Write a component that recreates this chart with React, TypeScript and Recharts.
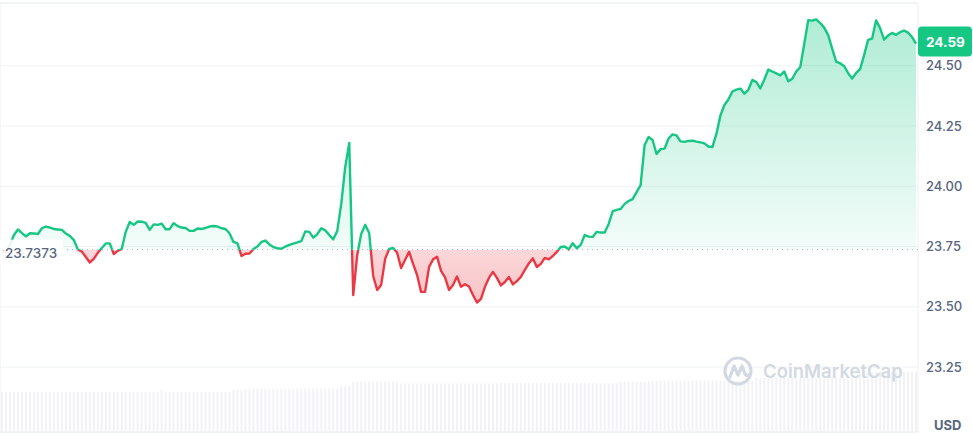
import React from 'react'
import { ComposedChart, Area, Bar, XAxis, YAxis, CartesianGrid, ReferenceLine, ReferenceArea } from 'recharts'

// price readings, left to right
const prices = [
  23.736, 23.728, 23.757, 23.798, 23.821, 23.806, 23.792, 23.805, 23.804, 23.802,
  23.826, 23.833, 23.829, 23.823, 23.821, 23.819, 23.804, 23.794, 23.777, 23.738,
  23.729, 23.707, 23.684, 23.699, 23.724, 23.744, 23.763, 23.763, 23.719, 23.732,
  23.740, 23.811, 23.852, 23.840, 23.854, 23.853, 23.848, 23.819, 23.842, 23.840,
  23.845, 23.822, 23.822, 23.847, 23.835, 23.829, 23.827, 23.815, 23.815, 23.825,
  23.823, 23.827, 23.833, 23.835, 23.833, 23.826, 23.823, 23.805, 23.769, 23.763,
  23.711, 23.720, 23.721, 23.740, 23.750, 23.769, 23.775, 23.759, 23.748, 23.743,
  23.741, 23.750, 23.757, 23.762, 23.767, 23.773, 23.813, 23.811, 23.787, 23.802,
  23.826, 23.817, 23.798, 23.780, 23.815, 23.927, 24.080, 24.180, 23.549, 23.715,
  23.802, 23.840, 23.806, 23.628, 23.570, 23.591, 23.699, 23.740, 23.744, 23.724,
  23.661, 23.695, 23.728, 23.678, 23.632, 23.562, 23.562, 23.665, 23.697, 23.708,
  23.649, 23.622, 23.570, 23.591, 23.626, 23.583, 23.594, 23.584, 23.549, 23.518,
  23.533, 23.583, 23.620, 23.645, 23.620, 23.589, 23.603, 23.624, 23.593, 23.607,
  23.624, 23.653, 23.680, 23.701, 23.665, 23.678, 23.703, 23.697, 23.711, 23.728,
  23.748, 23.750, 23.738, 23.764, 23.743, 23.757, 23.798, 23.791, 23.790, 23.811,
  23.808, 23.808, 23.844, 23.896, 23.902, 23.906, 23.927, 23.939, 23.947, 23.976,
  24.005, 24.171, 24.204, 24.192, 24.134, 24.154, 24.156, 24.198, 24.215, 24.211,
  24.186, 24.184, 24.188, 24.189, 24.185, 24.182, 24.178, 24.165, 24.163, 24.217,
  24.294, 24.337, 24.360, 24.393, 24.401, 24.405, 24.384, 24.400, 24.441, 24.432,
  24.406, 24.443, 24.484, 24.476, 24.468, 24.460, 24.476, 24.435, 24.446, 24.476,
  24.494, 24.590, 24.689, 24.687, 24.692, 24.677, 24.658, 24.627, 24.571, 24.517,
  24.510, 24.498, 24.469, 24.447, 24.470, 24.486, 24.544, 24.607, 24.612, 24.688,
  24.656, 24.608, 24.625, 24.636, 24.628, 24.639, 24.646, 24.637, 24.619, 24.592,
]

// volume readings (same steps as prices)
const volumes = [
  9.3, 9.3, 9.3, 9.3, 9.3, 9.3, 9.3, 9.3, 9.3, 9.3,
  9.3, 9.3, 9.3, 9.3, 9.3, 9.3, 9.3, 9.3, 9.3, 9.3,
  9.3, 9.3, 9.3, 9.3, 9.3, 9.3, 9.3, 9.3, 9.3, 9.3,
  9.3, 9.3, 9.3, 9.3, 9.3, 9.3, 9.3, 9.3, 9.3, 9.3,
  9.8, 9.3, 9.3, 9.3, 9.3, 9.3, 9.3, 9.3, 9.3, 9.3,
  9.3, 9.3, 9.3, 9.3, 9.3, 9.3, 9.3, 9.3, 9.8, 9.8,
  9.8, 10.0, 10.0, 10.1, 10.1, 10.1, 10.1, 10.1, 10.1, 10.1,
  10.1, 10.1, 10.1, 10.1, 10.1, 10.1, 10.1, 10.1, 10.1, 10.1,
  10.1, 10.1, 10.1, 10.1, 10.1, 10.7, 10.7, 10.7, 11.7, 11.7,
  11.7, 11.7, 11.7, 11.7, 11.7, 11.7, 11.7, 11.7, 11.7, 11.7,
  11.3, 11.3, 11.3, 11.3, 11.3, 11.3, 11.3, 11.3, 11.3, 11.3,
  11.3, 11.3, 11.3, 11.3, 11.3, 11.3, 11.3, 11.3, 11.3, 11.3,
  11.3, 11.3, 11.3, 11.3, 11.3, 11.4, 11.4, 11.4, 11.4, 11.4,
  11.4, 11.4, 11.4, 11.4, 11.4, 11.4, 11.4, 11.4, 11.4, 11.4,
  11.4, 11.4, 11.4, 11.4, 11.4, 11.4, 11.4, 11.4, 11.4, 11.4,
  11.4, 11.4, 11.4, 11.4, 11.4, 11.7, 11.7, 11.7, 11.7, 11.7,
  11.7, 11.7, 11.9, 11.9, 11.9, 11.9, 11.9, 11.9, 11.9, 11.9,
  11.9, 11.9, 11.9, 11.9, 11.9, 11.9, 11.9, 11.9, 11.9, 11.9,
  11.9, 11.9, 11.9, 11.9, 11.9, 11.9, 11.9, 11.9, 11.9, 12.6,
  12.6, 12.6, 12.6, 12.6, 12.6, 12.6, 12.6, 12.6, 12.6, 12.6,
  12.6, 12.6, 12.6, 12.6, 12.6, 12.6, 12.6, 12.6, 12.6, 12.6,
  12.6, 12.6, 12.6, 12.6, 12.6, 14.0, 14.0, 14.0, 14.0, 14.0,
  14.0, 14.0, 14.0, 14.0, 14.0, 14.0, 14.0, 14.0, 14.0, 14.0,
]

const yTicks = [23.25, 23.5, 23.75, 24.0, 24.25, 24.5]
const baseline = 23.7373
const priceDomain: [number, number] = [22.981, 24.76]

const GREEN = '#16c784'
const RED = '#ea3943'
const AXIS_TEXT = '#58667e'
const FONT = 'Inter, "Noto Sans", sans-serif'

const chartData = prices.map((price, i) => ({ i, price, volume: volumes[i] }))

const maxPrice = Math.max(...prices)
const minPrice = Math.min(...prices)
const split = (maxPrice - baseline) / (maxPrice - minPrice)
const lastPrice = prices[prices.length - 1]

function BaselineLabel({ viewBox }: any) {
  if (!viewBox) return null
  const { x, y } = viewBox
  return (
    <g>
      <rect x={x} y={y - 10} width={63} height={25} fill="#ffffff" fillOpacity={0.88} />
      <text x={x + 5} y={y + 8} fill={AXIS_TEXT} fontSize={13.5} fontFamily={FONT} fontWeight={500}>
        {baseline.toFixed(4)}
      </text>
    </g>
  )
}

function PriceBadge({ viewBox }: any) {
  if (!viewBox) return null
  const { x, y, width } = viewBox
  const left = x + width
  return (
    <g>
      <rect x={left} y={y - 17} width={54} height={30} rx={4} fill={GREEN} />
      <text x={left + 8} y={y + 3} fill="#ffffff" fontSize={13.5} fontFamily={FONT} fontWeight={700}>
        {lastPrice.toFixed(2)}
      </text>
    </g>
  )
}

function Watermark() {
  return (
    <div style={{ position: 'absolute', left: 722, top: 354, display: 'flex', alignItems: 'center', pointerEvents: 'none' }}>
      <svg width={34} height={34} viewBox="0 0 34 34">
        <circle cx={16} cy={17} r={13} fill="none" stroke="#d3d9e3" strokeWidth={3.2} />
        <path d="M8 23 L12 12 L16 21 L20 12 L23 20 Q25 23 28 20" fill="none" stroke="#d3d9e3" strokeWidth={3.2} strokeLinejoin="round" strokeLinecap="round" />
      </svg>
      <span style={{ marginLeft: 7, fontFamily: FONT, fontSize: 18.5, fontWeight: 600, color: '#d3d9e3' }}>CoinMarketCap</span>
    </div>
  )
}

export default function App() {
  return (
    <div style={{ position: 'absolute', left: 0, top: 0, width: 973, height: 434, background: '#ffffff' }}>
      <ComposedChart width={973} height={434} data={chartData} margin={{ top: 3, right: 0, left: 0, bottom: 2 }} barCategoryGap={1}>
        <defs>
          <linearGradient id="priceStroke" x1="0" y1="0" x2="0" y2="1">
            <stop offset={split} stopColor={GREEN} />
            <stop offset={split} stopColor={RED} />
          </linearGradient>
          <linearGradient id="priceFill" x1="0" y1="0" x2="0" y2="1">
            <stop offset={0} stopColor={GREEN} stopOpacity={0.34} />
            <stop offset={split} stopColor={GREEN} stopOpacity={0.05} />
            <stop offset={split} stopColor={RED} stopOpacity={0.2} />
            <stop offset={1} stopColor={RED} stopOpacity={0.3} />
          </linearGradient>
        </defs>
        <XAxis dataKey="i" hide />
        <YAxis
          yAxisId="price"
          orientation="right"
          width={55}
          domain={priceDomain}
          allowDataOverflow
          ticks={yTicks}
          tickFormatter={(v: number) => v.toFixed(2)}
          axisLine={false}
          tickLine={false}
          tick={{ fill: AXIS_TEXT, fontSize: 13, fontFamily: FONT, fontWeight: 500, textAnchor: 'start' }}
        />
        <YAxis yAxisId="vol" hide domain={[0, 100]} />
        <Bar yAxisId="vol" dataKey="volume" fill="#f0f2f6" isAnimationActive={false} />
        <CartesianGrid yAxisId="price" vertical={false} stroke="#eff2f5" />
        <ReferenceArea yAxisId="price" y1={priceDomain[0]} y2={priceDomain[1]} fill="none" stroke="#eceff3" ifOverflow="visible" />
        <Area
          yAxisId="price"
          type="linear"
          dataKey="price"
          baseValue={baseline}
          stroke="url(#priceStroke)"
          strokeWidth={2.4}
          strokeLinejoin="round"
          fill="url(#priceFill)"
          fillOpacity={1}
          dot={false}
          activeDot={false}
          isAnimationActive={false}
        />
        <ReferenceLine yAxisId="price" y={baseline} stroke="#a7b1c2" strokeDasharray="1 4" label={<BaselineLabel />} />
        <ReferenceLine yAxisId="price" y={lastPrice} stroke="none" ifOverflow="visible" label={<PriceBadge />} />
      </ComposedChart>
      <Watermark />
      <div style={{ position: 'absolute', left: 934, top: 417, fontFamily: FONT, fontSize: 13, fontWeight: 700, color: AXIS_TEXT }}>USD</div>
    </div>
  )
}
